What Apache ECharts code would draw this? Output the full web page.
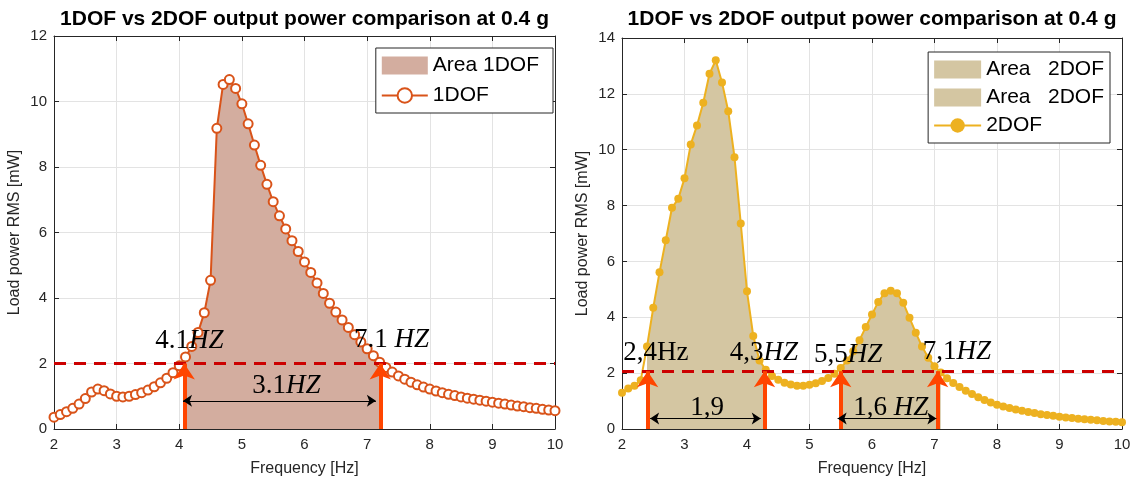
<!DOCTYPE html>
<html><head><meta charset="utf-8">
<script src="https://cdn.jsdelivr.net/npm/echarts@6/dist/echarts.min.js"></script>
<style>html,body{margin:0;padding:0;background:#fff}#c{width:1135px;height:482px}</style>
</head><body><div id="c"></div>
<script>
const freqHz = [2.0,2.1,2.2,2.3,2.4,2.5,2.6,2.7,2.8,2.9,3.0,3.1,3.2,3.3,3.4,3.5,3.6,3.7,3.8,3.9,4.0,4.1,4.2,4.3,4.4,4.5,4.6,4.7,4.8,4.9,5.0,5.1,5.2,5.3,5.4,5.5,5.6,5.7,5.8,5.9,6.0,6.1,6.2,6.3,6.4,6.5,6.6,6.7,6.8,6.9,7.0,7.1,7.2,7.3,7.4,7.5,7.6,7.7,7.8,7.9,8.0,8.1,8.2,8.3,8.4,8.5,8.6,8.7,8.8,8.9,9.0,9.1,9.2,9.3,9.4,9.5,9.6,9.7,9.8,9.9,10.0];
const power1DOF = [0.36,0.44,0.53,0.63,0.76,0.93,1.13,1.22,1.17,1.07,1.00,0.98,1.00,1.05,1.11,1.19,1.29,1.41,1.55,1.72,1.93,2.20,2.52,2.95,3.55,4.54,9.18,10.52,10.67,10.40,9.93,9.32,8.67,8.05,7.47,6.94,6.51,6.11,5.75,5.42,5.10,4.78,4.46,4.14,3.84,3.57,3.33,3.10,2.88,2.66,2.45,2.24,2.04,1.88,1.74,1.62,1.52,1.43,1.35,1.28,1.22,1.16,1.11,1.06,1.02,0.98,0.94,0.91,0.88,0.85,0.82,0.79,0.76,0.73,0.70,0.68,0.65,0.63,0.60,0.58,0.56];
const power2DOF = [1.30,1.45,1.55,1.75,2.95,4.34,5.61,6.76,7.92,8.24,8.98,10.19,10.87,11.68,12.72,13.20,12.41,11.38,9.73,7.36,4.93,3.33,2.45,2.12,1.90,1.76,1.66,1.59,1.55,1.55,1.58,1.64,1.72,1.83,1.98,2.18,2.45,2.78,3.18,3.65,4.10,4.55,4.86,4.95,4.86,4.52,3.98,3.45,2.95,2.55,2.25,2.02,1.82,1.65,1.50,1.37,1.25,1.14,1.04,0.95,0.87,0.81,0.75,0.70,0.65,0.61,0.57,0.53,0.50,0.47,0.44,0.41,0.39,0.37,0.35,0.33,0.31,0.29,0.27,0.26,0.24];

const titleText = '1DOF vs 2DOF output power comparison at 0.4 g';
const xTicks = [2,3,4,5,6,7,8,9,10];
const yTicksLeft = [0,2,4,6,8,10,12];
const yTicksRight = [0,2,4,6,8,10,12,14];

const thresholdLeft = 2.0;
const thresholdRight = 2.07;
const areaLeft = [4.1, 7.2];
const areasRight = [[2.4, 4.3], [5.5, 7.1]];

const arrowsLeftX = [4.08, 7.21];
const arrowsRightX = [2.41, 4.28, 5.50, 7.05];
const spanLeft = [[4.06, 7.14, 0.86]];
const spansRight = [[2.45, 4.22, 0.38], [5.45, 7.03, 0.38]];

const labelsLeft = [
  {x: 4.16, y: 2.69, num: '4.1', unit: 'HZ'},
  {x: 7.39, y: 2.71, num: '7.1 ', unit: 'HZ'},
  {x: 5.71, y: 1.31, num: '3.1', unit: 'HZ'}
];
const labelsRight = [
  {x: 2.54, y: 2.72, num: '2,4Hz', unit: ''},
  {x: 4.27, y: 2.72, num: '4,3', unit: 'HZ'},
  {x: 5.62, y: 2.66, num: '5,5', unit: 'HZ'},
  {x: 7.36, y: 2.75, num: '7,1', unit: 'HZ'},
  {x: 3.36, y: 0.77, num: '1,9', unit: ''},
  {x: 6.30, y: 0.77, num: '1,6 ', unit: 'HZ'}
];

const C1 = '#D95319', C1A = '#D3AD9F';
const C2 = '#EDB120', C2A = '#D4C6A2';
const ARROW = '#FF4500', DASH = '#CC0000';
const AX = '#262626', GRID = '#E3E3E3';
const FONT = 'Liberation Sans';

function pairs(ys) { return freqHz.map((f, i) => [f, ys[i]]); }
function range(ys, a, b) { return freqHz.map((f, i) => [f, ys[i]]).filter(p => p[0] >= a - 1e-9 && p[0] <= b + 1e-9); }

function mkX(gi, titleGap) {
  return [{
    gridIndex: gi, type: 'value', min: 2, max: 10, interval: 1,
    axisLine: {show: true, onZero: false, lineStyle: {color: AX, width: 1}},
    axisTick: {show: true, inside: true, length: 5, lineStyle: {color: AX}},
    axisLabel: {fontSize: 15, color: AX, fontFamily: FONT, margin: 8},
    splitLine: {show: true, lineStyle: {color: GRID, width: 1}},
    name: 'Frequency [Hz]', nameLocation: 'middle', nameGap: 32,
    nameTextStyle: {fontSize: 16, color: AX, fontFamily: FONT}
  }, {
    gridIndex: gi, type: 'value', min: 2, max: 10, interval: 1, position: 'top',
    axisLine: {show: true, onZero: false, lineStyle: {color: AX, width: 1}},
    axisTick: {show: true, inside: true, length: 5, lineStyle: {color: AX}},
    axisLabel: {show: false}, splitLine: {show: false},
    name: titleText, nameLocation: 'middle', nameGap: titleGap,
    nameTextStyle: {fontSize: 21, fontWeight: 'bold', color: '#000', fontFamily: FONT}
  }];
}
function mkY(gi, max, gap) {
  return [{
    gridIndex: gi, type: 'value', min: 0, max: max, interval: 2,
    axisLine: {show: true, onZero: false, lineStyle: {color: AX, width: 1}},
    axisTick: {show: true, inside: true, length: 5, lineStyle: {color: AX}},
    axisLabel: {fontSize: 15, color: AX, fontFamily: FONT, margin: 7},
    splitLine: {show: true, lineStyle: {color: GRID, width: 1}},
    name: 'Load power RMS [mW]', nameLocation: 'middle', nameGap: gap,
    nameTextStyle: {fontSize: 16, color: AX, fontFamily: FONT}
  }, {
    gridIndex: gi, type: 'value', min: 0, max: max, interval: 2, position: 'right',
    axisLine: {show: true, onZero: false, lineStyle: {color: AX, width: 1}},
    axisTick: {show: true, inside: true, length: 5, lineStyle: {color: AX}},
    axisLabel: {show: false}, splitLine: {show: false}
  }];
}

const richText = {
  n: {fontFamily: 'Liberation Serif', fontSize: 27, color: '#000'},
  i: {fontFamily: 'Liberation Serif', fontSize: 27, fontStyle: 'italic', color: '#000'}
};
function labelPoints(list) {
  return list.map(l => ({
    coord: [l.x, l.y],
    label: {formatter: '{n|' + l.num + '}' + (l.unit ? '{i|' + l.unit + '}' : '')}
  }));
}

function annotSeries(xi, yi, thr, arrowsX, spans, labels) {
  const mlData = [{yAxis: thr, symbol: 'none', symbolSize: 0, lineStyle: {color: DASH, width: 3, type: [12, 8]}}];
  arrowsX.forEach(x => mlData.push([
    {coord: [x, 0], symbol: 'none', lineStyle: {color: ARROW, width: 4, type: 'solid'}},
    {coord: [x, thr], symbol: 'arrow', symbolSize: 16}
  ]));
  spans.forEach(s => mlData.push([
    {coord: [s[0], s[2]], symbol: 'arrow', symbolSize: 9, lineStyle: {color: '#000', width: 1, type: 'solid'}},
    {coord: [s[1], s[2]], symbol: 'arrow', symbolSize: 9}
  ]));
  return {
    type: 'line', xAxisIndex: xi, yAxisIndex: yi, data: [], clip: false, z: 5,
    silent: true,
    markLine: {silent: true, animation: false, symbol: 'none', label: {show: false}, data: mlData, z: 5},
    markPoint: {
      silent: true, animation: false, symbol: 'circle', symbolSize: 1,
      itemStyle: {color: 'rgba(0,0,0,0)'},
      label: {show: true, position: 'inside', rich: richText},
      data: labelPoints(labels), z: 6
    }
  };
}

const option = {
  animation: false,
  backgroundColor: '#fff',
  grid: [
    {left: 54, top: 36, width: 501, height: 395},
    {left: 622, top: 38, width: 500, height: 394}
  ],
  xAxis: [...mkX(0, 6), ...mkX(1, 8)],
  yAxis: [...mkY(0, 12, 31), ...mkY(1, 14, 31)],
  legend: [{
    data: [{name: 'Area 1DOF', icon: 'rect'}, {name: '1DOF'}],
    orient: 'vertical', right: 582, top: 48,
    backgroundColor: '#fff', borderColor: AX, borderWidth: 1, borderRadius: 0,
    padding: [7, 14, 7, 5], itemGap: 9, itemWidth: 46, itemHeight: 18,
    textStyle: {fontSize: 21, color: '#000', fontFamily: FONT}
  }, {
    data: [{name: 'Area 2DOF a', icon: 'rect'}, {name: 'Area 2DOF b', icon: 'rect'}, {name: '2DOF'}],
    formatter: n => (n.indexOf('Area') === 0 ? 'Area   2DOF' : n),
    orient: 'vertical', right: 25, top: 52,
    backgroundColor: '#fff', borderColor: AX, borderWidth: 1, borderRadius: 0,
    padding: [7, 6, 7, 5], itemGap: 7, itemWidth: 47, itemHeight: 18,
    textStyle: {fontSize: 21, color: '#000', fontFamily: FONT}
  }],
  series: [
    {
      name: 'Area 1DOF', type: 'line', xAxisIndex: 0, yAxisIndex: 0, color: C1A,
      data: range(power1DOF, areaLeft[0], areaLeft[1]), symbol: 'none',
      lineStyle: {width: 0, color: C1A}, areaStyle: {color: C1A, opacity: 1}, z: 1
    },
    {
      name: '1DOF', type: 'line', xAxisIndex: 0, yAxisIndex: 0, color: C1,
      data: pairs(power1DOF), symbol: 'emptyCircle', symbolSize: 9, showAllSymbol: true,
      lineStyle: {width: 2, color: C1}, itemStyle: {color: C1, borderWidth: 2}, z: 3
    },
    annotSeries(0, 0, thresholdLeft, arrowsLeftX, spanLeft, labelsLeft),
    {
      name: 'Area 2DOF a', type: 'line', xAxisIndex: 2, yAxisIndex: 2, color: C2A,
      data: range(power2DOF, areasRight[0][0], areasRight[0][1]), symbol: 'none',
      lineStyle: {width: 0, color: C2A}, areaStyle: {color: C2A, opacity: 1}, z: 1
    },
    {
      name: 'Area 2DOF b', type: 'line', xAxisIndex: 2, yAxisIndex: 2, color: C2A,
      data: range(power2DOF, areasRight[1][0], areasRight[1][1]), symbol: 'none',
      lineStyle: {width: 0, color: C2A}, areaStyle: {color: C2A, opacity: 1}, z: 1
    },
    {
      name: '2DOF', type: 'line', xAxisIndex: 2, yAxisIndex: 2, color: C2,
      data: pairs(power2DOF), symbol: 'circle', symbolSize: 8, showAllSymbol: true,
      lineStyle: {width: 2, color: C2}, itemStyle: {color: C2}, z: 3
    },
    annotSeries(2, 2, thresholdRight, arrowsRightX, spansRight, labelsRight)
  ]
};
const chart = echarts.init(document.getElementById('c'), null, {renderer: 'canvas'});
chart.setOption(option);
</script></body></html>
